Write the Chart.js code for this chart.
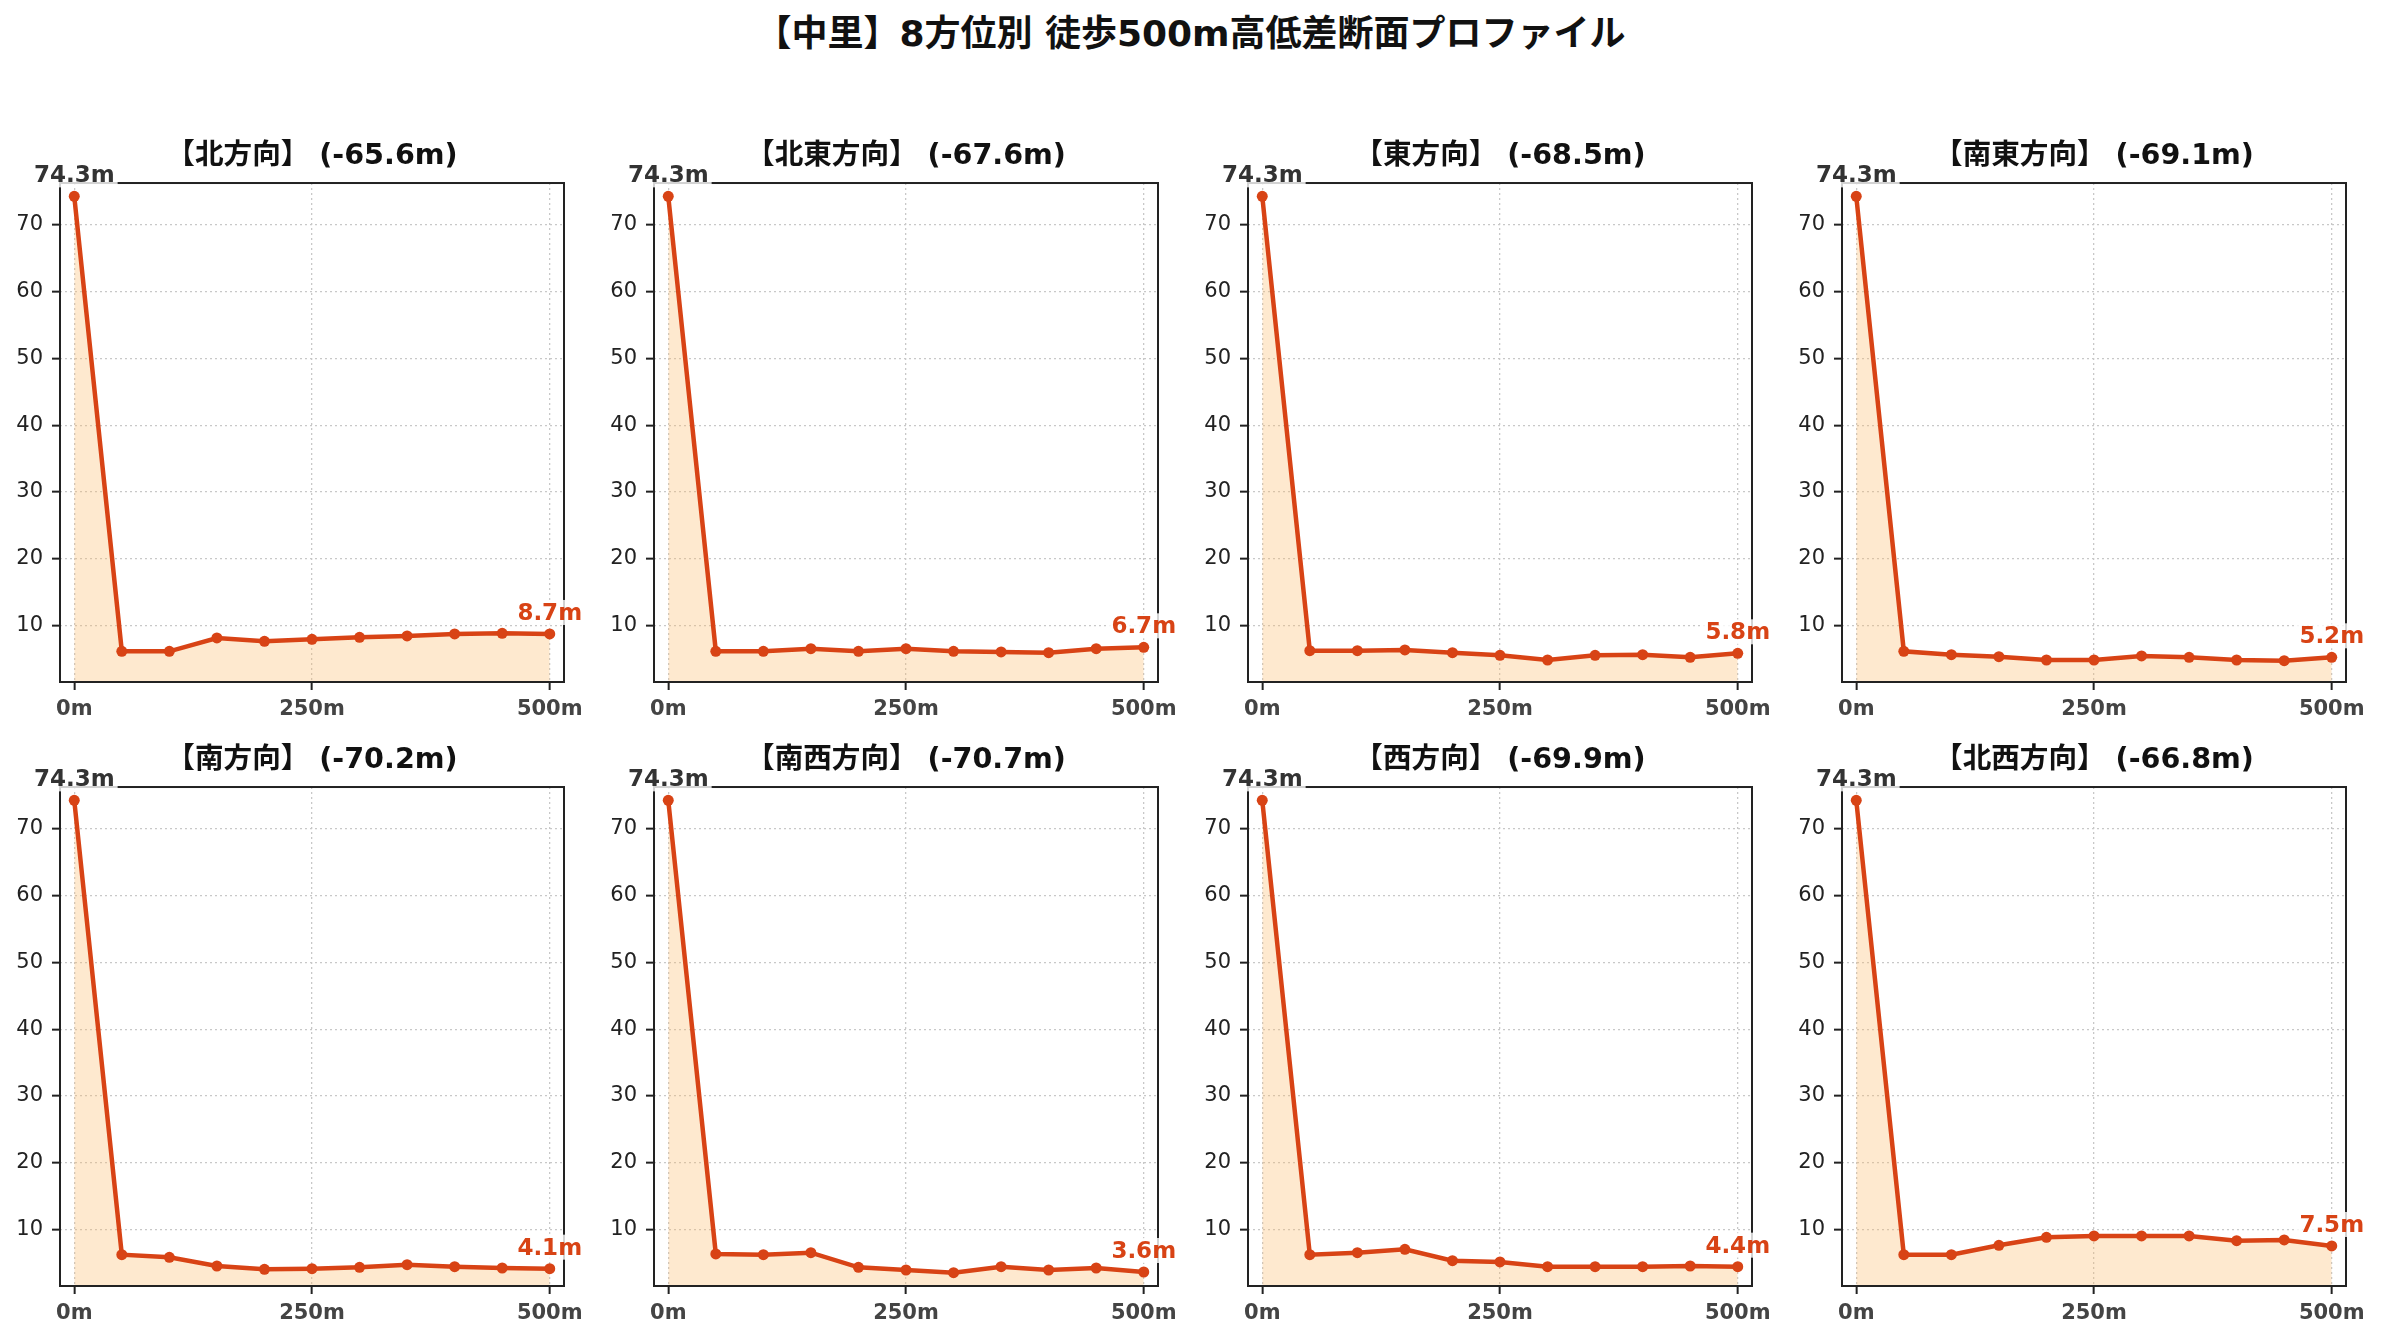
<!DOCTYPE html>
<html><head><meta charset="utf-8">
<script src="https://cdn.jsdelivr.net/npm/chart.js@4.4.1/dist/chart.umd.min.js"></script>
<style>
html,body{margin:0;padding:0;background:#fff;}
body{width:2381px;height:1340px;position:relative;overflow:hidden;}
#title{position:absolute;left:0;top:12px;width:2381px;text-align:center;font-weight:bold;font-size:36px;font-family:"DejaVu Sans","Noto Sans CJK JP",sans-serif;color:#111;line-height:44px;}
canvas{position:absolute;}
</style></head><body>
<div id="title">【中里】8方位別 徒歩500m高低差断面プロファイル</div>
<script>
// ---- data ----
const siteName = '中里';
const distances = [0, 50, 100, 150, 200, 250, 300, 350, 400, 450, 500];
const directions = ['北', '北東', '東', '南東', '南', '南西', '西', '北西'];
const elevNorth     = [74.3, 6.1, 6.1, 8.1, 7.6, 7.9, 8.2, 8.4, 8.7, 8.8, 8.7];
const elevNorthEast = [74.3, 6.1, 6.1, 6.5, 6.1, 6.5, 6.1, 6.0, 5.9, 6.5, 6.7];
const elevEast      = [74.3, 6.2, 6.2, 6.3, 5.9, 5.5, 4.8, 5.5, 5.6, 5.2, 5.8];
const elevSouthEast = [74.3, 6.1, 5.6, 5.3, 4.8, 4.8, 5.4, 5.2, 4.8, 4.7, 5.2];
const elevSouth     = [74.3, 6.2, 5.8, 4.5, 4.0, 4.1, 4.3, 4.7, 4.4, 4.2, 4.1];
const elevSouthWest = [74.3, 6.3, 6.2, 6.5, 4.3, 3.9, 3.5, 4.4, 3.9, 4.2, 3.6];
const elevWest      = [74.3, 6.2, 6.5, 7.0, 5.3, 5.1, 4.4, 4.4, 4.4, 4.5, 4.4];
const elevNorthWest = [74.3, 6.2, 6.2, 7.6, 8.8, 9.0, 9.0, 9.0, 8.3, 8.4, 7.5];
const xTicks = [0, 250, 500];
const xTickLabels = ['0m', '250m', '500m'];
const yTicks = [10, 20, 30, 40, 50, 60, 70];
const xMin = -15, xMax = 515;
const yMin = 1.5, yMax = 76.3;

const series = [elevNorth, elevNorthEast, elevEast, elevSouthEast, elevSouth, elevSouthWest, elevWest, elevNorthWest];

// ---- style / layout ----
const FONT = '"DejaVu Sans", "Noto Sans CJK JP", sans-serif';
const LINE = '#D84315';
const FILL = 'rgba(252,188,105,0.32)';
const colLeft = [60, 654, 1248, 1842];
const rowTop = [183, 787];
const PADL = 70, PADT = 70, PADR = 70, PADB = 50;
const AW = 504, AH = 499;

const frame = {
  id: 'frameAndLabels',
  afterDraw(chart) {
    const ctx = chart.ctx, a = chart.chartArea;
    ctx.save();
    ctx.strokeStyle = '#222'; ctx.lineWidth = 2;
    ctx.strokeRect(a.left, a.top, a.right - a.left, a.bottom - a.top);
    const meta = chart.getDatasetMeta(0);
    const vals = chart.data.datasets[0].data;
    const items = [{ i: 0, color: '#333' }, { i: vals.length - 1, color: LINE }];
    ctx.font = 'bold 23px ' + FONT;
    ctx.textAlign = 'center'; ctx.textBaseline = 'alphabetic';
    for (const it of items) {
      const p = meta.data[it.i];
      const txt = vals[it.i].y.toFixed(1) + 'm';
      const w = ctx.measureText(txt).width;
      const by = p.y - 14;
      ctx.fillStyle = 'rgba(255,255,255,0.8)';
      ctx.fillRect(p.x - w / 2 - 3, by - 20, w + 6, 25);
      ctx.fillStyle = it.color;
      ctx.fillText(txt, p.x, by);
    }
    ctx.restore();
  }
};

series.forEach((vals, k) => {
  const col = k % 4, row = Math.floor(k / 4);
  const cv = document.createElement('canvas');
  const W = PADL + AW + PADR, H = PADT + AH + PADB;
  cv.width = W; cv.height = H;
  cv.style.width = W + 'px'; cv.style.height = H + 'px';
  cv.style.left = (colLeft[col] - PADL) + 'px';
  cv.style.top = (rowTop[row] - PADT) + 'px';
  document.body.appendChild(cv);
  const diff = (vals[vals.length - 1] - vals[0]).toFixed(1);
  new Chart(cv, {
    type: 'line',
    data: {
      datasets: [{
        data: distances.map((d, i) => ({ x: d, y: vals[i] })),
        borderColor: LINE, borderWidth: 4.5,
        backgroundColor: FILL, fill: 'start',
        pointRadius: 5.5, pointBackgroundColor: LINE, pointBorderWidth: 0,
        tension: 0
      }]
    },
    options: {
      responsive: false, animation: false, devicePixelRatio: 1,
      layout: { padding: 0 },
      plugins: {
        legend: { display: false }, tooltip: { enabled: false },
        title: {
          display: true, text: `【${directions[k]}方向】 (${diff}m)`,
          color: '#111', font: { family: FONT, size: 28.6, weight: 'bold', lineHeight: 1.2 },
          padding: { top: 26.8, bottom: 8.9 }
        }
      },
      scales: {
        x: {
          type: 'linear', min: xMin, max: xMax,
          afterBuildTicks: s => { s.ticks = xTicks.map(v => ({ value: v })); },
          afterFit: s => { s.height = PADB; },
          ticks: {
            autoSkip: false, maxRotation: 0, padding: 7, color: '#444',
            font: { family: FONT, size: 21, weight: 'bold' },
            callback: v => xTickLabels[xTicks.indexOf(v)]
          },
          grid: { color: '#c8c8c8', lineWidth: 1.3, tickColor: '#222', tickWidth: 2, tickLength: 8, tickBorderDash: [] },
          border: { display: false, dash: [2, 3] }
        },
        y: {
          type: 'linear', min: yMin, max: yMax,
          afterBuildTicks: s => { s.ticks = yTicks.map(v => ({ value: v })); },
          afterFit: s => { s.width = PADL; },
          ticks: {
            autoSkip: false, padding: 9, color: '#222',
            font: { family: FONT, size: 21 },
            callback: v => String(v)
          },
          grid: { color: '#c8c8c8', lineWidth: 1.3, tickColor: '#222', tickWidth: 2, tickLength: 8, tickBorderDash: [] },
          border: { display: false, dash: [2, 3] }
        },
        yRight: {
          type: 'linear', position: 'right', display: true, min: 0, max: 1,
          ticks: { display: false },
          grid: { display: false, drawTicks: false },
          border: { display: false },
          afterFit: s => { s.width = PADR; }
        }
      }
    },
    plugins: [frame]
  });
});
</script>
</body></html>
